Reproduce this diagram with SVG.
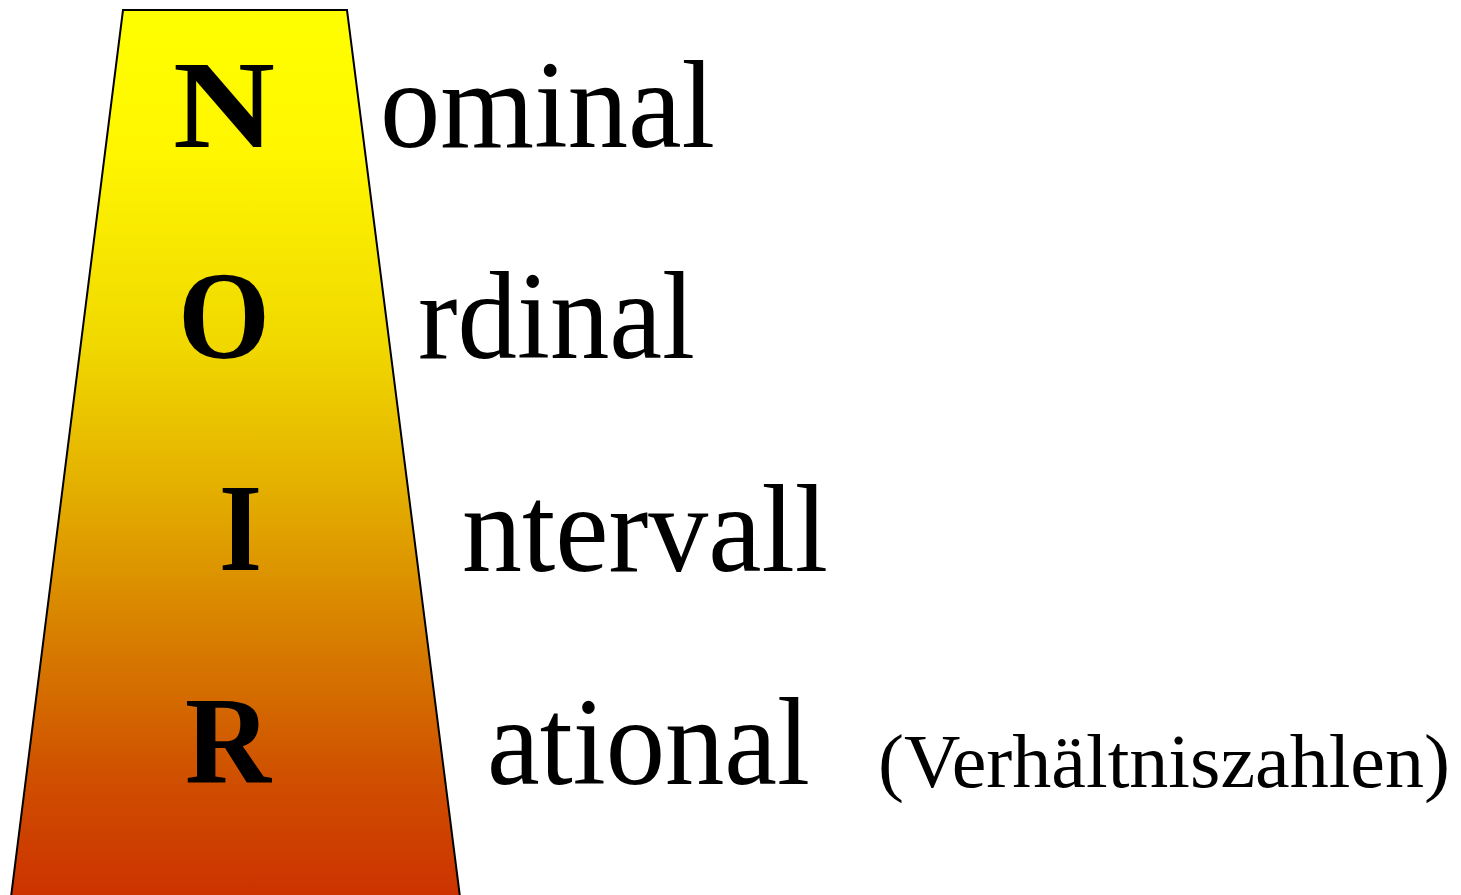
<svg xmlns="http://www.w3.org/2000/svg" width="1461" height="895" viewBox="0 0 1461 895">
<defs>
<linearGradient id="g" gradientUnits="userSpaceOnUse" x1="0" y1="10" x2="0" y2="895">
<stop offset="0" stop-color="#ffff00"/>
<stop offset="0.16" stop-color="#fff600"/>
<stop offset="0.38" stop-color="#f0d800"/>
<stop offset="0.56" stop-color="#e2aa00"/>
<stop offset="0.73" stop-color="#d67800"/>
<stop offset="0.88" stop-color="#cf4c00"/>
<stop offset="1" stop-color="#cc3300"/>
</linearGradient>
</defs>
<style>
.big{font-family:"Liberation Serif",serif;font-weight:bold;font-size:124px;fill:#000}
.word{font-family:"Liberation Serif",serif;font-size:124px;fill:#000}
.small{font-family:"Liberation Serif",serif;font-size:77px;fill:#000}
</style>
<rect width="1461" height="895" fill="#fff"/>
<g id="pyramid">
<polygon points="123,10 347,10 460,897 11,897" fill="url(#g)" stroke="#000" stroke-width="2"/>
</g>
<g id="nominal">
<text class="big" x="173" y="147" textLength="102" lengthAdjust="spacingAndGlyphs">N</text>
<text class="word" x="380" y="147" textLength="335" lengthAdjust="spacingAndGlyphs">ominal</text>
</g>
<g id="ordinal">
<text class="big" x="178" y="358" textLength="92" lengthAdjust="spacingAndGlyphs">O</text>
<text class="word" x="418" y="358" textLength="277" lengthAdjust="spacingAndGlyphs">rdinal</text>
</g>
<g id="intervall">
<text class="big" x="219" y="570" textLength="43" lengthAdjust="spacingAndGlyphs">I</text>
<text class="word" x="462" y="571" textLength="366" lengthAdjust="spacingAndGlyphs">ntervall</text>
</g>
<g id="rational">
<text class="big" x="185" y="783" textLength="86" lengthAdjust="spacingAndGlyphs">R</text>
<text class="word" x="487" y="784" textLength="323" lengthAdjust="spacingAndGlyphs">ational</text>
<text class="small" x="878" y="787" textLength="572" lengthAdjust="spacingAndGlyphs">(Verhältniszahlen)</text>
</g>
</svg>
